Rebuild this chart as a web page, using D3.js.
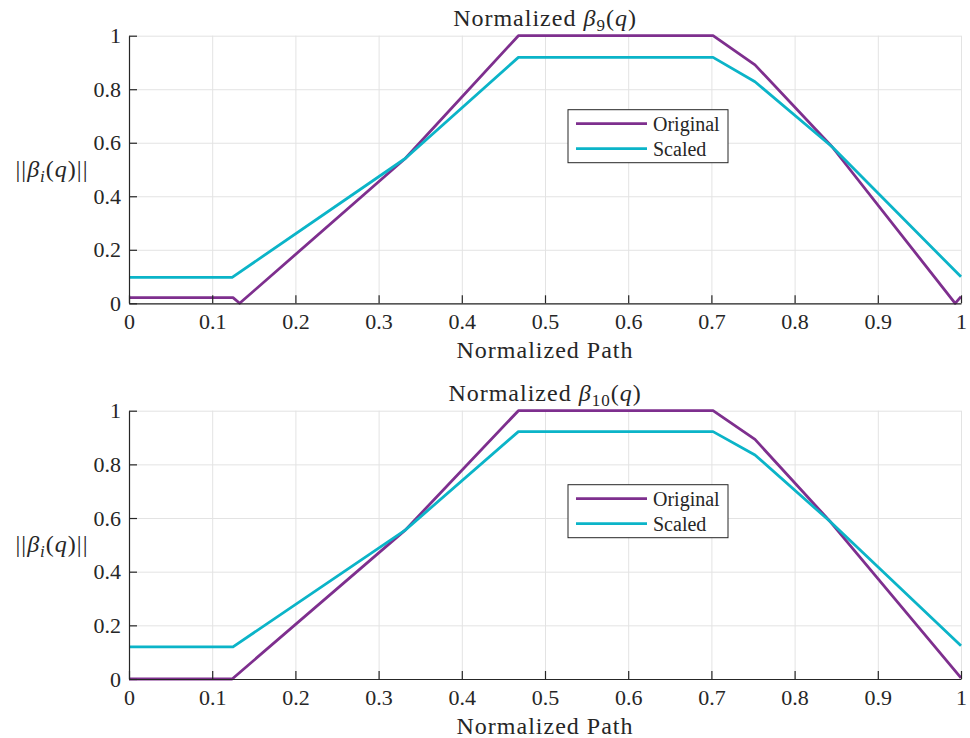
<!DOCTYPE html>
<html lang="en">
<head>
    <meta charset="UTF-8">
    <title>Normalized beta</title>
    <script src="https://d3js.org/d3.v7.min.js"></script>
    <style>
        body { margin: 0; background: #fff; }
        svg text { font-family: "Liberation Serif", "DejaVu Serif", serif; fill: #262626; }
        .axis path, .axis line { stroke: #262626; stroke-width: 1.2px; }
        .axis text { font-size: 22px; font-family: "Liberation Serif", "DejaVu Serif", serif; }
        .grid line { stroke: #e3e3e3; stroke-width: 1px; }
        .grid path { stroke: none; }
        .series { fill: none; stroke-width: 2.8px; stroke-linejoin: round; }
        .label { font-size: 24px; letter-spacing: 1px; }
    </style>
</head>
<body>
<svg id="chart" width="970" height="738"></svg>
<script>
    // tick values
    const xTicks = [0, 0.1, 0.2, 0.3, 0.4, 0.5, 0.6, 0.7, 0.8, 0.9, 1];
    const yTicks = [0, 0.2, 0.4, 0.6, 0.8, 1];

    // beta 9 (top panel)
    const b9OrigX = [0, 0.125, 0.133, 0.332, 0.468, 0.702, 0.7524, 0.845, 0.993, 1];
    const b9OrigY = [0.021, 0.021, 0, 0.541, 1, 1, 0.891, 0.585, 0, 0.025];
    const b9ScaledX = [0, 0.124, 0.332, 0.468, 0.702, 0.7524, 0.845, 1];
    const b9ScaledY = [0.097, 0.097, 0.541, 0.919, 0.919, 0.828, 0.585, 0.099];

    // beta 10 (bottom panel)
    const b10OrigX = [0, 0.124, 0.332, 0.468, 0.702, 0.7524, 0.843, 1];
    const b10OrigY = [0, 0, 0.555, 1, 1, 0.893, 0.586, 0.004];
    const b10ScaledX = [0, 0.125, 0.332, 0.468, 0.702, 0.7524, 0.843, 1];
    const b10ScaledY = [0.12, 0.12, 0.555, 0.922, 0.922, 0.835, 0.586, 0.124];

    const seriesNames = ["Original", "Scaled"];
    const seriesColors = ["#7E2F8E", "#0BB4C8"];

    const svg = d3.select("#chart");
    const left = 129, right = 961;

    function drawPanel(top, bottom, sub, origX, origY, scaledX, scaledY) {
        const x = d3.scaleLinear().domain([0, 1]).range([left, right]);
        const y = d3.scaleLinear().domain([0, 1]).range([bottom, top]);
        const g = svg.append("g");

        // grid
        g.append("g").attr("class", "grid")
            .attr("transform", `translate(0,${bottom})`)
            .call(d3.axisBottom(x).tickValues(xTicks).tickSize(-(bottom - top)).tickFormat(""));
        g.append("g").attr("class", "grid")
            .attr("transform", `translate(${left},0)`)
            .call(d3.axisLeft(y).tickValues(yTicks).tickSize(-(right - left)).tickFormat(""));

        // lines
        const line = d3.line().x(d => x(d[0])).y(d => y(d[1]));
        const data = [d3.zip(origX, origY), d3.zip(scaledX, scaledY)];
        data.forEach((pts, i) => {
            g.append("path").attr("class", "series")
                .attr("stroke", seriesColors[i])
                .attr("d", line(pts));
        });

        // axes
        g.append("g").attr("class", "axis")
            .attr("transform", `translate(0,${bottom})`)
            .call(d3.axisBottom(x).tickValues(xTicks).tickSize(-8).tickSizeOuter(0).tickPadding(10)
                .tickFormat(d => String(d)))
            .attr("font-family", null);
        g.append("g").attr("class", "axis")
            .attr("transform", `translate(${left},0)`)
            .call(d3.axisLeft(y).tickValues(yTicks).tickSize(-8).tickSizeOuter(0).tickPadding(8)
                .tickFormat(d => String(d)))
            .attr("font-family", null);

        // title
        const title = g.append("text").attr("class", "label")
            .attr("x", (left + right) / 2).attr("y", top - 10)
            .attr("text-anchor", "middle");
        title.append("tspan").text("Normalized ");
        title.append("tspan").attr("font-style", "italic").text("β");
        title.append("tspan").attr("dy", 5).style("font-size", "17px").text(sub);
        title.append("tspan").attr("dy", -5).text("(");
        title.append("tspan").attr("font-style", "italic").text("q");
        title.append("tspan").text(")");

        // x label
        g.append("text").attr("class", "label")
            .attr("x", (left + right) / 2).attr("y", bottom + 55)
            .attr("text-anchor", "middle")
            .text("Normalized Path");

        // y label
        const yl = g.append("text").attr("class", "label")
            .attr("x", 52).attr("y", (top + bottom) / 2 + 7)
            .attr("text-anchor", "middle");
        yl.append("tspan").text("||");
        yl.append("tspan").attr("font-style", "italic").text("β");
        yl.append("tspan").attr("font-style", "italic").attr("dy", 5).style("font-size", "17px").text("i");
        yl.append("tspan").attr("dy", -5).text("(");
        yl.append("tspan").attr("font-style", "italic").text("q");
        yl.append("tspan").text(")||");

        // legend
        const lg = g.append("g").attr("transform", `translate(568,${top + 74})`);
        lg.append("rect").attr("width", 160).attr("height", 53)
            .attr("fill", "#fff").attr("stroke", "#262626").attr("stroke-width", 1);
        seriesNames.forEach((name, i) => {
            const cy = 14 + i * 25;
            lg.append("line").attr("x1", 8).attr("x2", 79).attr("y1", cy).attr("y2", cy)
                .attr("stroke", seriesColors[i]).attr("stroke-width", 2.8);
            lg.append("text").attr("x", 85).attr("y", cy + 7)
                .style("font-size", "20px").text(name);
        });
    }

    drawPanel(35.7, 303.3, "9", b9OrigX, b9OrigY, b9ScaledX, b9ScaledY);
    drawPanel(410.7, 679, "10", b10OrigX, b10OrigY, b10ScaledX, b10ScaledY);
</script>
</body>
</html>
